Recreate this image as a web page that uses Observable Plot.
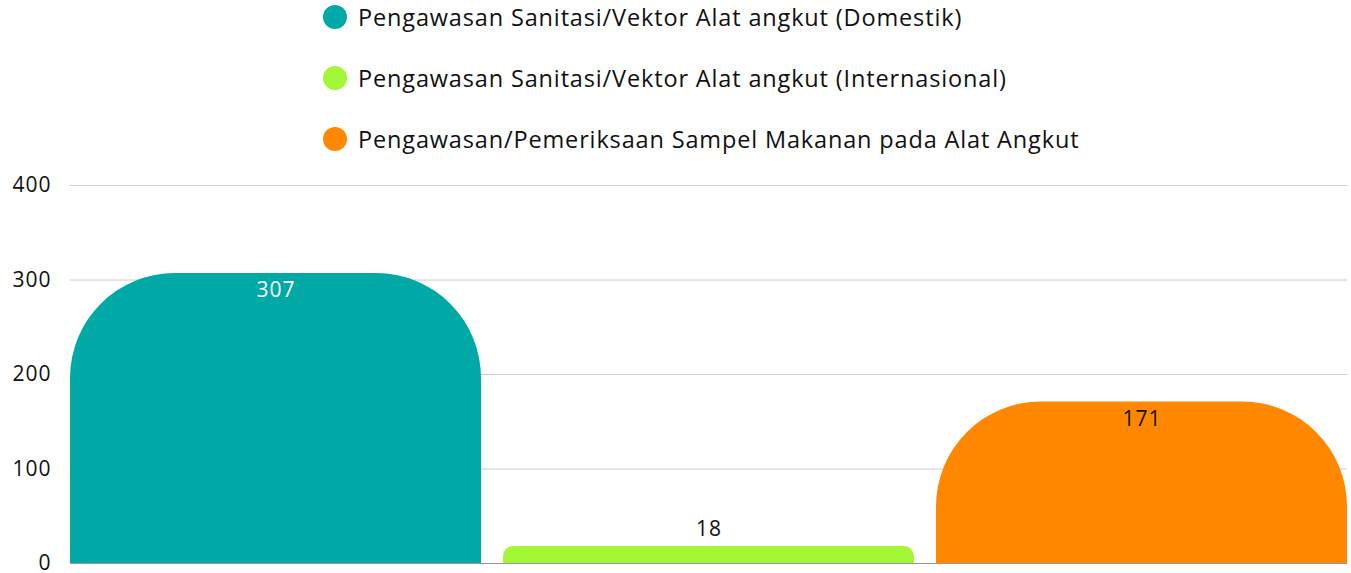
<!DOCTYPE html>
<html><head><meta charset="utf-8">
<script src="https://cdn.jsdelivr.net/npm/d3@7"></script>
<script src="https://cdn.jsdelivr.net/npm/@observablehq/plot@0.6"></script>
<style>
body{margin:0;background:#fff;font-family:"Open Sans",sans-serif;}
#legend{height:165px;position:relative;}
.item{position:absolute;left:323px;display:flex;align-items:center;font-size:23.5px;letter-spacing:0.85px;color:#111;height:30px;}
.dot{width:24px;height:24px;border-radius:50%;margin-right:11px;flex:none;}
</style></head><body>
<div id="legend"></div><div id="chart"></div>
<script>
const categories = [
  "Pengawasan Sanitasi/Vektor Alat angkut (Domestik)",
  "Pengawasan Sanitasi/Vektor Alat angkut (Internasional)",
  "Pengawasan/Pemeriksaan Sampel Makanan pada Alat Angkut"
];
const values = [307, 18, 171];
const yTicks = [0, 100, 200, 300, 400];

// styles
const colors = ["#00a9a5", "#a3f737", "#ff8800"];
const radii = [105, 10, 105];
const labelFill = ["#ffffff", "#111111", "#111111"];

const data = categories.map((c, i) => ({category: c, value: values[i], i}));

// legend
const legend = document.getElementById("legend");
categories.forEach((c, i) => {
  const it = document.createElement("div");
  it.className = "item";
  it.style.top = (2 + i * 61) + "px";
  it.innerHTML = `<span class="dot" style="background:${colors[i]}"></span><span>${c}</span>`;
  legend.appendChild(it);
});

const barMarks = data.map(d => Plot.barY([d], {
  x: "category", y1: -130, y2: "value",
  fill: colors[d.i], rx: radii[d.i], clip: true
}));

const chart = Plot.plot({
  width: 1351, height: 408,
  marginLeft: 70, marginRight: 4, marginTop: 20, marginBottom: 10,
  style: {fontSize: "21px", letterSpacing: "1px", fontFamily: "'Open Sans', sans-serif", color: "#111", background: "#fff"},
  x: {domain: categories, paddingInner: 0.051, paddingOuter: 0, axis: null},
  y: {domain: [0, 400], ticks: yTicks, tickSize: 0, tickPadding: 19, label: null},
  marks: [
    Plot.ruleY(yTicks.filter(t => t > 0), {stroke: "#cccccc", strokeWidth: 1}),
    ...barMarks,
    Plot.ruleY([0], {stroke: "#999999", strokeWidth: 1}),
    Plot.text(data.filter(d => d.value >= 100), {
      x: "category", y: "value", text: d => String(d.value), dy: 17,
      fill: d => labelFill[d.i], fontSize: 21
    }),
    Plot.text(data.filter(d => d.value < 100), {
      x: "category", y: "value", text: d => String(d.value), dy: -17,
      fill: d => labelFill[d.i], fontSize: 21
    })
  ]
});
document.getElementById("chart").appendChild(chart);
</script>
</body></html>
